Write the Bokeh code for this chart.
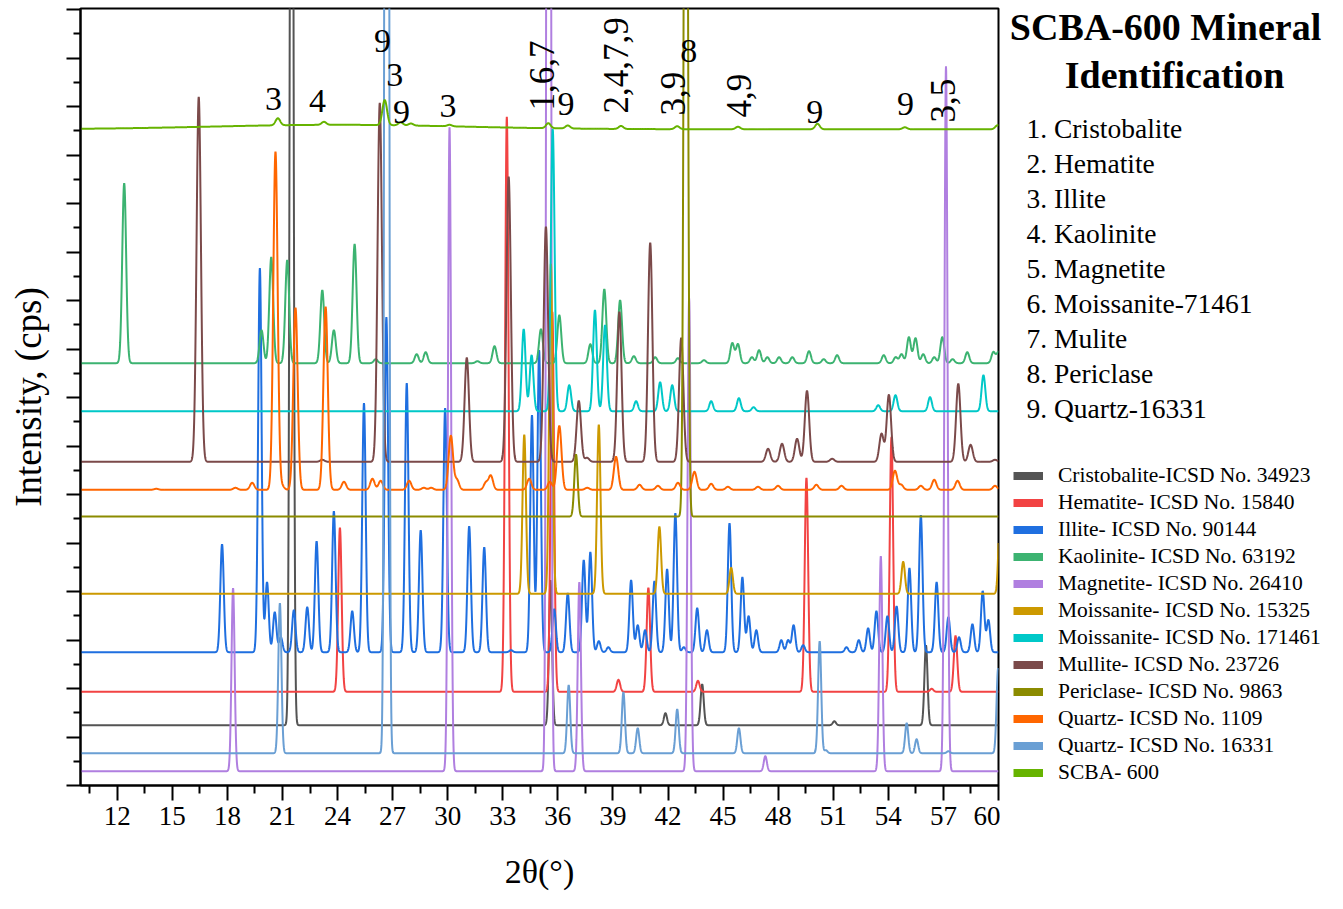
import numpy as np
from bokeh.plotting import figure
from bokeh.layouts import row
from bokeh.models import ColumnDataSource, FixedTicker, Label, Legend, LegendItem, Range1d
from bokeh.embed import file_html
from bokeh.resources import INLINE

# ---------------- data ----------------
series_names = [
    "Cristobalite-ICSD No. 34923", "Hematite- ICSD No. 15840", "Illite- ICSD No. 90144",
    "Kaolinite- ICSD No. 63192", "Magnetite- ICSD No. 26410", "Moissanite- ICSD No. 15325",
    "Moissanite- ICSD No. 171461", "Mullite- ICSD No. 23726", "Periclase- ICSD No. 9863",
    "Quartz- ICSD No. 1109", "Quartz- ICSD No. 16331", "SCBA- 600",
]
series_colors = [
    "#545454", "#f24343", "#1f6fe0", "#3cb371", "#b07fe0", "#cc9900",
    "#00c8c8", "#7b4a4a", "#8b8b00", "#ff6600", "#6a9fd4", "#66b300",
]
# vertical stacking offset of each pattern (intensity units)
series_offset = [60.3, 93.7, 133.3, 422.3, 14.3, 191.7, 374.3, 323.7, 269.0, 295.7, 32.3, 656.2]
# peak width (FWHM, degrees 2-theta)
series_fwhm = [0.2, 0.22, 0.22, 0.25, 0.2, 0.22, 0.24, 0.28, 0.22, 0.28, 0.2, 0.3]

cristobalite_pos = [21.5, 35.6, 41.86, 43.86, 51.06, 56.05]
cristobalite_int = [1500, 145, 12, 41, 4, 80]

hematite_pos = [24.13, 33.22, 35.7, 39.3, 40.93, 43.63, 49.54, 54.17, 56.36, 57.66]
hematite_int = [164, 575, 380, 12, 104, 11, 214, 255, 3, 56]

illite_pos = [17.71, 19.77, 20.16, 20.58, 20.91, 21.62, 22.35, 22.86, 23.8, 24.8, 25.44,
              26.66, 27.77, 28.53, 29.86, 31.17, 31.99, 33.45, 34.59, 34.98, 35.8, 36.54,
              37.41, 37.77, 38.23, 38.75, 39.99, 40.35, 40.75, 41.26, 41.95, 42.4, 42.86,
              43.59, 44.12, 45.35, 46.05, 46.39, 46.81, 48.17, 48.54, 48.84, 49.36, 51.72,
              52.39, 52.9, 53.35, 53.95, 54.45, 55.15, 55.77, 56.63, 57.27, 57.85, 58.58,
              59.14, 59.45]
illite_int = [108, 384, 70, 40, 15, 42, 45, 111, 141, 41, 249,
              335, 269, 122, 244, 126, 105, 2, 237, 302, 43, 59,
              92, 100, 11, 5, 72, 27, 22, 71, 83, 139, 5,
              44, 22, 129, 75, 36, 22, 12, 12, 27, 7, 5,
              12, 24, 41, 36, 46, 84, 137, 70, 35, 15, 28,
              61, 32]

kaolinite_pos = [12.38, 19.86, 20.39, 21.26, 23.17, 23.8, 24.93, 26.08, 28.31, 28.8, 31.62,
                 32.55, 35.08, 36.08, 37.77, 38.53, 39.39, 40.14, 41.3, 42.54, 43.96, 45.5,
                 45.81, 46.57, 46.96, 47.41, 48.05, 48.77, 49.68, 50.48, 51.21, 53.75, 54.4,
                 54.72, 55.12, 55.48, 55.9, 56.5, 56.94, 57.5, 58.3, 59.72, 60.0]
kaolinite_int = [180, 33, 106, 103, 73, 33, 119, 4, 9, 11, 2,
                 17, 34, 48, 19, 74, 63, 7, 6, 5, 3, 20,
                 19, 6, 13, 6, 6, 6, 12, 4, 8, 8, 6,
                 9, 26, 25, 9, 6, 26, 4, 11, 11, 11]

magnetite_pos = [18.31, 30.1, 35.5, 37.17, 43.15, 47.3, 53.59, 57.14]
magnetite_int = [183, 644, 3000, 189, 473, 15, 215, 705]

moissanite15325_pos = [34.17, 35.62, 38.23, 41.53, 45.44, 54.81, 60.1]
moissanite15325_int = [159, 330, 169, 67, 26, 32, 90]

moissanite171461_pos = [34.14, 34.57, 35.72, 36.62, 38.02, 38.57, 40.26, 41.57, 42.23, 44.35,
                        45.86, 46.66, 53.45, 54.39, 56.27, 59.18]
moissanite171461_int = [82, 56, 282, 26, 101, 86, 10, 29, 26, 10, 13, 4, 6, 16, 14, 36]

mullite_pos = [16.44, 23.17, 26.3, 31.04, 33.32, 35.35, 37.14, 37.59, 39.35, 41.03, 42.72,
               47.45, 48.21, 49.03, 49.57, 50.94, 53.63, 54.03, 57.81, 58.48, 59.81]
mullite_int = [365, 2, 359, 104, 285, 235, 61, 4, 150, 219, 124,
               13, 18, 23, 71, 3, 28, 67, 78, 17, 2]

periclase_pos = [36.99, 42.97]
periclase_int = [62, 1200]

quartz1109_pos = [14.13, 18.44, 19.35, 20.62, 20.97, 21.71, 23.35, 24.35, 25.9, 26.35, 27.9,
                  28.7, 29.1, 30.17, 30.5, 32.08, 32.35, 34.44, 35.57, 36.08, 37.6, 39.17,
                  40.45, 41.45, 42.54, 43.44, 44.35, 45.26, 46.9, 47.99, 50.08, 51.45, 54.36,
                  54.7, 55.77, 56.5, 57.77, 59.81]
quartz1109_int = [1, 2, 7, 338, 4, 182, 183, 8, 11, 9, 9,
                  2, 2, 54, 10, 7, 14, 11, 8, 64, 2, 33,
                  5, 4, 7, 18, 6, 3, 3, 4, 5, 4, 19,
                  5, 4, 10, 9, 4]

quartz16331_pos = [20.86, 26.68, 36.59, 39.57, 40.35, 42.5, 45.86, 50.26, 50.6, 55.0, 55.54,
                   57.27, 59.98]
quartz16331_int = [150, 3000, 68, 61, 25, 44, 25, 112, 3, 30, 14, 2, 85]

# SCBA-600 measured pattern: broad amorphous halo + weak reflections
scba_pos = [24.0, 20.75, 23.26, 26.57, 27.44, 28.0, 30.1, 35.48, 36.54, 39.44, 42.5, 45.81,
            50.14, 54.9, 59.95]
scba_int = [4.5, 7, 3, 25, 3, 2, 1.5, 5, 3, 3, 3, 2.5, 5.5, 2, 4]
scba_fwhm = [16.0, 0.3, 0.3, 0.3, 0.3, 0.3, 0.3, 0.3, 0.3, 0.3, 0.3, 0.3, 0.3, 0.3, 0.3]

peak_positions = [cristobalite_pos, hematite_pos, illite_pos, kaolinite_pos, magnetite_pos,
                  moissanite15325_pos, moissanite171461_pos, mullite_pos, periclase_pos,
                  quartz1109_pos, quartz16331_pos, scba_pos]
peak_intensities = [cristobalite_int, hematite_int, illite_int, kaolinite_int, magnetite_int,
                    moissanite15325_int, moissanite171461_int, mullite_int, periclase_int,
                    quartz1109_int, quartz16331_int, scba_int]

x_ticks = [12, 15, 18, 21, 24, 27, 30, 33, 36, 39, 42, 45, 48, 51, 54, 57, 60]

# peak annotations: (text, 2theta, height of text centre)
flat_notes = [("3", 20.51, 686.5), ("4", 22.91, 684.5), ("9", 26.45, 744.5), ("3", 27.11, 710.5),
              ("9", 27.49, 673.5), ("3", 30.02, 679.5), ("9", 36.44, 681.5), ("8", 43.13, 734.5),
              ("9", 49.99, 673.5), ("9", 54.93, 681.5)]
# rotated notes: (text, 2theta at centre, height of lower end)
rotated_notes = [("1,6,7", 35.11, 675), ("2,4,7,9", 39.17, 672), ("3,9", 42.28, 670),
                 ("4,9", 45.88, 668), ("3,5", 57.0, 663)]

title_lines = ["SCBA-600 Mineral", "Identification"]
mineral_list = ["1. Cristobalite", "2. Hematite", "3. Illite", "4. Kaolinite", "5. Magnetite",
                "6. Moissanite-71461", "7. Mulite", "8. Periclase", "9. Quartz-16331"]

# ---------------- main figure ----------------
FONT = "Liberation Serif"
p = figure(width=1000, height=909, x_range=Range1d(10, 60), y_range=Range1d(0, 777),
           output_backend="svg", toolbar_location=None,
           min_border_left=80, min_border_right=2, min_border_top=8, min_border_bottom=124)
p.title.visible = False
p.xgrid.visible = False
p.ygrid.visible = False
p.outline_line_color = "black"
p.outline_line_width = 2
p.background_fill_color = "white"
p.border_fill_color = "white"

grid = np.linspace(10, 60, 5001)


def pattern(pos, inten, fwhm):
    y = np.zeros_like(grid)
    if np.isscalar(fwhm):
        fwhm = [fwhm] * len(pos)
    for c, h, w in zip(pos, inten, fwhm):
        s = w / 2.3548
        y += h * np.exp(-0.5 * ((grid - c) / s) ** 2)
    return y


for i, name in enumerate(series_names):
    fw = scba_fwhm if name == "SCBA- 600" else series_fwhm[i]
    yy = series_offset[i] + pattern(peak_positions[i], peak_intensities[i], fw)
    src = ColumnDataSource(dict(x=grid, y=yy))
    p.line("x", "y", source=src, line_color=series_colors[i], line_width=2)

# axes
xa = p.xaxis[0]
xa.ticker = FixedTicker(ticks=x_ticks, minor_ticks=[t - 1.5 for t in x_ticks])
xa.axis_line_width = 2
xa.major_tick_line_width = 2
xa.minor_tick_line_width = 2
xa.major_tick_out = 15
xa.major_tick_in = 0
xa.minor_tick_out = 8
xa.minor_tick_in = 0
xa.major_label_text_font = FONT
xa.major_label_text_font_size = "27px"
xa.major_label_text_color = "black"
xa.major_label_standoff = 6
xa.axis_label = "2θ(°)"
xa.axis_label_text_font = FONT
xa.axis_label_text_font_size = "34px"
xa.axis_label_text_font_style = "normal"
xa.axis_label_text_color = "black"
xa.axis_label_standoff = 25

ya = p.yaxis[0]
y_major = [48.5 * k for k in range(17)]
ya.ticker = FixedTicker(ticks=y_major, minor_ticks=[v + 24.25 for v in y_major])
ya.axis_line_width = 2
ya.major_tick_line_width = 2
ya.minor_tick_line_width = 2
ya.major_tick_out = 14
ya.major_tick_in = 0
ya.minor_tick_out = 7
ya.minor_tick_in = 0
ya.major_label_overrides = {v: "" for v in y_major}
ya.major_label_standoff = 0
ya.axis_label = "Intensity, (cps)"
ya.axis_label_text_font = FONT
ya.axis_label_text_font_size = "37px"
ya.axis_label_text_font_style = "normal"
ya.axis_label_text_color = "black"
ya.axis_label_standoff = 18

# peak annotations
for txt, xx, yy in flat_notes:
    p.add_layout(Label(x=xx, y=yy, text=txt, text_font=FONT, text_font_size="34px",
                       text_align="center", text_baseline="middle", text_color="black"))
for txt, xx, yy in rotated_notes:
    p.add_layout(Label(x=xx, y=yy, text=txt, text_font=FONT, text_font_size="35px",
                       angle=np.pi / 2, text_align="left", text_baseline="middle",
                       text_color="black"))

# ---------------- right-hand panel: title, mineral list, legend ----------------
# frame aligned with the main plot frame (rows 8..785), data y = page pixel row
q = figure(width=343, height=909, x_range=Range1d(1000, 1343), y_range=Range1d(785, 8),
           output_backend="svg", toolbar_location=None, x_axis_type=None, y_axis_type=None,
           min_border_left=0, min_border_right=0, min_border_top=8, min_border_bottom=124)
q.title.visible = False
q.xgrid.visible = False
q.ygrid.visible = False
q.outline_line_color = None
q.background_fill_color = "white"
q.border_fill_color = "white"

title_x = [1165, 1174]
title_y = [26.2, 74.2]
for t, tx, ty in zip(title_lines, title_x, title_y):
    q.add_layout(Label(x=tx, y=ty, text=t, text_font=FONT, text_font_size="38px",
                       text_font_style="bold", text_align="center", text_baseline="middle",
                       text_color="black"))
for k, t in enumerate(mineral_list):
    q.add_layout(Label(x=1026, y=127.7 + 35 * k, text=t, text_font=FONT,
                       text_font_size="27.5px", text_align="left", text_baseline="middle",
                       text_color="black"))

items = []
for name, col in zip(series_names, series_colors):
    # legend swatch renderer: a short thick line kept outside the visible panel range
    r = q.line(x=[900, 901], y=[900, 900], line_color=col, line_width=8)
    items.append(LegendItem(label=name, renderers=[r]))
legend = Legend(items=items, location=(13, 0), border_line_color=None,
                background_fill_alpha=0, padding=0, margin=0, spacing=2,
                glyph_width=30, glyph_height=25, label_height=25, label_standoff=15,
                label_text_font=FONT, label_text_font_size="21.5px", label_text_color="black")
q.add_layout(legend)

layout = row(p, q)
open("out.html", "w").write(file_html(layout, INLINE))
